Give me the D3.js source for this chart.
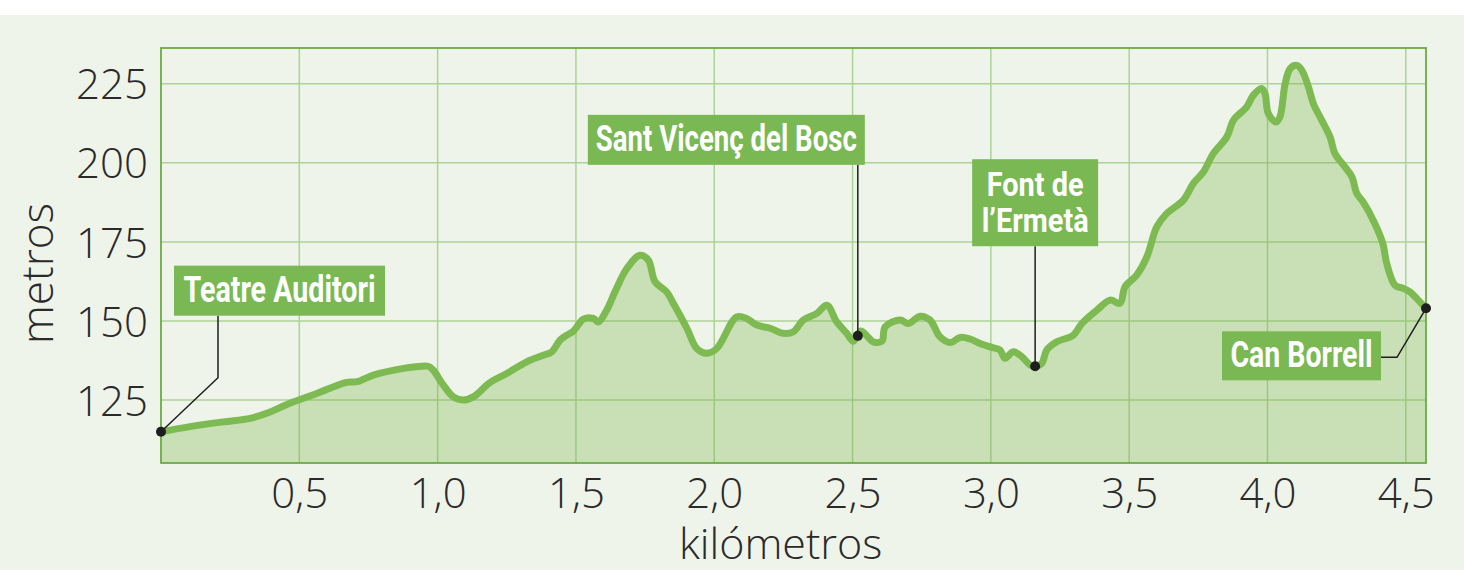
<!DOCTYPE html>
<html>
<head>
<meta charset="utf-8">
<script src="https://cdn.jsdelivr.net/npm/d3@7"></script>
<style>
  html, body { margin: 0; padding: 0; background: #fff; }
  svg { display: block; }
</style>
</head>
<body>
<svg id="chart" width="1464" height="570"></svg>
<script>
// distance along the route (km) and elevation (m)
var km = [0.000, 0.105, 0.225, 0.322, 0.382, 0.466, 0.563, 0.671, 0.708, 0.768, 0.876, 0.930, 0.966, 0.984,
  1.021, 1.057, 1.093, 1.129, 1.189, 1.250, 1.322, 1.382, 1.413, 1.443, 1.467, 1.491, 1.527, 1.563, 1.581,
  1.611, 1.641, 1.684, 1.732, 1.762, 1.786, 1.828, 1.852, 1.901, 1.937, 1.973, 2.009, 2.081, 2.117, 2.154,
  2.202, 2.250, 2.286, 2.322, 2.371, 2.407, 2.443, 2.479, 2.503, 2.530, 2.555, 2.575, 2.606, 2.618, 2.672,
  2.702, 2.744, 2.780, 2.816, 2.853, 2.889, 2.925, 2.961, 2.997, 3.033, 3.051, 3.081, 3.112, 3.142, 3.160,
  3.184, 3.202, 3.238, 3.298, 3.329, 3.383, 3.431, 3.467, 3.485, 3.527, 3.564, 3.600, 3.636, 3.696, 3.732,
  3.768, 3.804, 3.853, 3.877, 3.925, 3.949, 3.979, 3.991, 4.003, 4.031, 4.045, 4.064, 4.082, 4.106, 4.124,
  4.148, 4.166, 4.196, 4.226, 4.244, 4.280, 4.305, 4.323, 4.345, 4.387, 4.417, 4.431, 4.461, 4.491, 4.515,
  4.545, 4.573];
var elev = [115.0, 116.6, 118.1, 119.2, 120.8, 124.0, 127.1, 130.6, 130.8, 132.9, 135.0, 135.6, 135.7, 134.5,
  129.7, 126.0, 125.0, 126.0, 130.5, 133.4, 137.1, 139.2, 140.3, 144.0, 145.5, 146.8, 150.6, 150.8, 149.7,
  153.4, 159.2, 166.6, 170.8, 169.2, 162.4, 159.2, 155.6, 147.7, 141.3, 139.8, 141.3, 151.3, 150.8, 148.7,
  147.7, 146.1, 146.6, 150.3, 152.4, 155.0, 149.7, 146.1, 143.6, 146.8, 145.0, 143.4, 143.6, 148.2, 150.3,
  149.2, 151.5, 150.3, 145.0, 143.2, 144.8, 144.3, 142.9, 141.8, 140.8, 138.2, 140.3, 138.7, 136.1, 135.7,
  136.6, 140.8, 143.4, 145.5, 149.2, 153.4, 156.6, 155.6, 160.8, 164.5, 170.3, 179.8, 184.0, 188.2, 193.5,
  197.1, 202.9, 208.2, 213.5, 217.7, 221.4, 223.5, 221.9, 215.6, 212.9, 214.5, 225.1, 229.8, 230.8, 229.3,
  224.0, 218.7, 213.5, 208.2, 202.9, 198.7, 195.6, 190.3, 187.7, 181.0, 174.5, 168.2, 161.3, 160.3, 159.2,
  156.6, 154.0];

var yTicks = [125, 150, 175, 200, 225];
var xTicks = [0.5, 1.0, 1.5, 2.0, 2.5, 3.0, 3.5, 4.0, 4.5];

// named stops along the route
var placeNames = [['Teatre Auditori'], ['Sant Vicenç del Bosc'], ['Font de', 'l\u2019Ermetà'], ['Can Borrell']];
var placeKm = [0.000, 2.519, 3.160, 4.573];
var placeElev = [115.0, 145.3, 135.7, 154.0];

var W = 1464, H = 570;
var plot = {left: 161, right: 1426, top: 48, bottom: 463};

var svg = d3.select('#chart');

var x = d3.scaleLinear().domain([0, 4.573]).range([plot.left, plot.right]);
var y = d3.scaleLinear().domain([105.1, 236.3]).range([plot.bottom, plot.top]);

var pts = km.map(function(k, i){ return {k: k, e: elev[i]}; });

// page background (white strip at the very top)
svg.append('rect').attr('width', W).attr('height', H).attr('fill', '#ffffff');
svg.append('rect').attr('x', 0).attr('y', 15).attr('width', W).attr('height', H - 15).attr('fill', '#eff4ea');

// grid
var grid = svg.append('g').attr('class', 'grid');
grid.selectAll('.hgrid').data(yTicks).enter().append('line')
  .attr('x1', plot.left).attr('x2', plot.right)
  .attr('y1', function(d){ return y(d); }).attr('y2', function(d){ return y(d); })
  .attr('stroke', '#acd396').attr('stroke-width', 1.5);
grid.selectAll('.vgrid').data(xTicks).enter().append('line')
  .attr('y1', plot.top).attr('y2', plot.bottom)
  .attr('x1', function(d){ return x(d); }).attr('x2', function(d){ return x(d); })
  .attr('stroke', '#acd396').attr('stroke-width', 1.5);

// clip for the profile
svg.append('clipPath').attr('id', 'plotclip').append('rect')
  .attr('x', plot.left).attr('y', plot.top - 10)
  .attr('width', plot.right - plot.left).attr('height', plot.bottom - plot.top + 10);

var area = d3.area()
  .x(function(d){ return x(d.k); })
  .y0(plot.bottom)
  .y1(function(d){ return y(d.e); })
  .curve(d3.curveCatmullRom.alpha(0.5));

var line = d3.line()
  .x(function(d){ return x(d.k); })
  .y(function(d){ return y(d.e); })
  .curve(d3.curveCatmullRom.alpha(0.5));

svg.append('path').datum(pts)
  .attr('d', area)
  .attr('fill', '#78b545')
  .attr('fill-opacity', 0.32)
  .attr('clip-path', 'url(#plotclip)');

svg.append('path').datum(pts)
  .attr('d', line)
  .attr('fill', 'none')
  .attr('stroke', '#7dba52')
  .attr('stroke-width', 7)
  .attr('stroke-linejoin', 'round')
  .attr('stroke-linecap', 'round')
  .attr('clip-path', 'url(#plotclip)');

// plot frame
svg.append('rect')
  .attr('x', plot.left).attr('y', plot.top)
  .attr('width', plot.right - plot.left).attr('height', plot.bottom - plot.top)
  .attr('fill', 'none').attr('stroke', '#6aab45').attr('stroke-width', 1.8);

// axes
var fmtKm = function(d){ return d3.format('.1f')(d).replace('.', ','); };

var yAxis = svg.append('g')
  .attr('transform', 'translate(' + plot.left + ',0)')
  .call(d3.axisLeft(y).tickValues(yTicks).tickSize(0).tickPadding(13));
var xAxis = svg.append('g')
  .attr('transform', 'translate(0,' + plot.bottom + ')')
  .call(d3.axisBottom(x).tickValues(xTicks).tickSize(0).tickPadding(16).tickFormat(fmtKm));

[yAxis, xAxis].forEach(function(ax){
  ax.select('.domain').remove();
  ax.selectAll('text')
    .attr('fill', '#2a2a2a')
    .style('font-family', "'Open Sans', 'Noto Sans', sans-serif")
    .style('font-weight', 300)
    .style('font-size', '42px');
});
yAxis.selectAll('text').attr('dy', '0.36em');
xAxis.selectAll('text').attr('dy', '0.7em');

svg.append('text')
  .attr('transform', 'translate(' + x(2.24) + ',559)')
  .attr('text-anchor', 'middle')
  .attr('fill', '#2a2a2a')
  .style('font-family', "'Open Sans', 'Noto Sans', sans-serif")
  .style('font-weight', 300)
  .style('font-size', '43px')
  .text('kilómetros');

svg.append('text')
  .attr('transform', 'translate(53,' + y(165) + ') rotate(-90)')
  .attr('text-anchor', 'middle')
  .attr('fill', '#2a2a2a')
  .style('font-family', "'Open Sans', 'Noto Sans', sans-serif")
  .style('font-weight', 300)
  .style('font-size', '44px')
  .text('metros');

// annotation layout: box relative to the marked point, and the leader path
var boxes = [
  {bx: 13,   by: -166, bw: 211, bh: 50, leader: [[57, -116], [57, -54], [0, 0]], tw: [192]},
  {bx: -270, by: -221, bw: 277, bh: 50, leader: [[0, -171], [0, 0]], tw: [261]},
  {bx: -63,  by: -207, bw: 126, bh: 87, leader: [[0, -120], [0, 0]], tw: [97, 107]},
  {bx: -204, by: 23,   bw: 159, bh: 49, leader: [[-45, 49], [-29, 49], [0, 0]], tw: [142]}
];

var notes = svg.append('g').attr('class', 'notes');
placeNames.forEach(function(lines, i){
  var px = x(placeKm[i]), py = y(placeElev[i]);
  var b = boxes[i];
  var g = notes.append('g').attr('transform', 'translate(' + px + ',' + py + ')');

  g.append('path')
    .attr('d', d3.line()(b.leader))
    .attr('fill', 'none')
    .attr('stroke', '#1e1e1e')
    .attr('stroke-width', 1.5);

  g.append('rect')
    .attr('x', b.bx).attr('y', b.by)
    .attr('width', b.bw).attr('height', b.bh)
    .attr('fill', '#7ab853');

  var lh = 36;
  var fs = lines.length > 1 ? 33 : 37;
  var firstBase = b.by + (b.bh - lh * lines.length) / 2 + 29;
  lines.forEach(function(t, j){
    g.append('text')
      .attr('x', b.bx + b.bw / 2)
      .attr('y', firstBase + j * lh)
      .attr('text-anchor', 'middle')
      .attr('fill', '#ffffff')
      .attr('textLength', b.tw[j])
      .attr('lengthAdjust', 'spacingAndGlyphs')
      .style('font-family', "'Roboto', 'Open Sans', sans-serif")
      .style('font-weight', 700)
      .style('font-size', fs + 'px')
      .text(t);
  });

  g.append('circle').attr('r', 5).attr('fill', '#1e1e1e');
});
</script>
</body>
</html>
